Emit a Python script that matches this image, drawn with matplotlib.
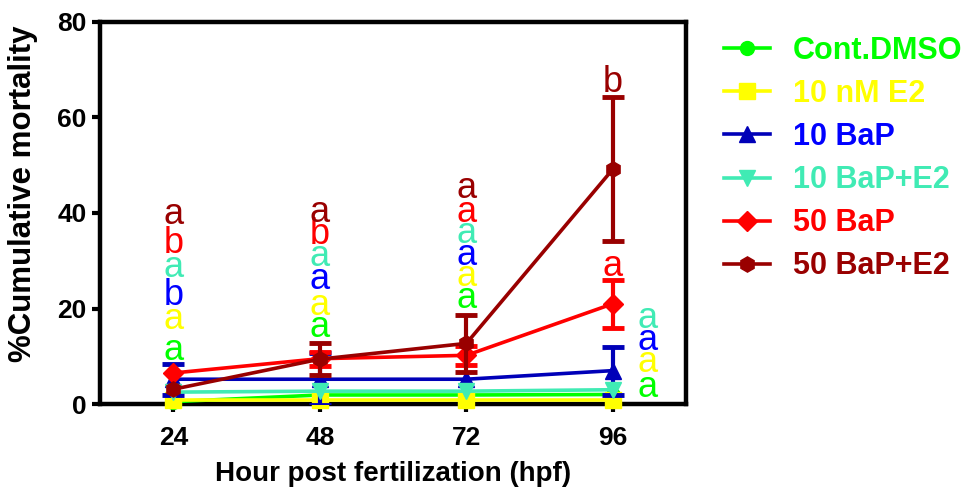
import matplotlib
matplotlib.use("Agg")
import matplotlib.pyplot as plt
from matplotlib.lines import Line2D

plt.rcParams['font.family'] = ['Liberation Sans', 'DejaVu Sans']

# hours post fertilization
hpf = [24, 48, 72, 96]

groups = ["Cont.DMSO", "10 nM E2", "10 BaP", "10 BaP+E2", "50 BaP", "50 BaP+E2"]

# % cumulative mortality (mean) and error per group
dmso = [0.5, 1.9, 1.9, 2.0]
e2 = [0.8, 0.8, 0.8, 0.8]
bap10 = [5.2, 5.2, 5.2, 7.0]
bap10_e2 = [2.5, 2.7, 2.7, 3.0]
bap50 = [6.5, 9.5, 10.2, 21.0]
bap50_e2 = [3.1, 9.4, 12.7, 49.2]

dmso_err = [0, 0, 0, 0]
e2_err = [0, 0, 0, 0]
bap10_err = [3.2, 5.5, 0, 5.0]
bap10_e2_err = [0, 0, 0, 0]
bap50_err = [0, 1.5, 2.0, 5.0]
bap50_e2_err = [0, 3.4, 6.0, 15.0]

# significance letters per group / time point, and where they sit
dmso_let = ["a", "a", "a", "a"]
e2_let = ["a", "a", "a", "a"]
bap10_let = ["b", "a", "a", "a"]
bap10_e2_let = ["a", "a", "a", "a"]
bap50_let = ["b", "b", "a", "a"]
bap50_e2_let = ["a", "a", "a", "b"]

let_x = [[24, 48, 72, 101.7]] * 4 + [[24, 48, 72, 96]] * 2
let_y = [
    [11.3, 16.1, 22.2, 3.4],
    [17.6, 20.7, 26.6, 8.6],
    [22.8, 26.0, 31.2, 13.4],
    [28.5, 30.8, 35.8, 18.0],
    [33.7, 35.4, 40.2, 28.7],
    [39.6, 40.2, 45.2, 67.4],
]

means = [dmso, e2, bap10, bap10_e2, bap50, bap50_e2]
errs = [dmso_err, e2_err, bap10_err, bap10_e2_err, bap50_err, bap50_e2_err]
letters = [dmso_let, e2_let, bap10_let, bap10_e2_let, bap50_let, bap50_e2_let]

line_colors = ["#00FF00", "#FFFF00", "#0000B8", "#40EBB4", "#FF0000", "#990000"]
text_colors = ["#00FF00", "#FFFF00", "#0000FF", "#40EBB4", "#FF0000", "#990000"]
markers = ["o", "s", "^", "v", "D", "h"]
msizes = [10, 11, 11, 11, 10, 11]
letter_font = ['Liberation Sans Narrow', 'Liberation Sans', 'DejaVu Sans']

fig = plt.figure(figsize=(9.72, 4.97), dpi=100)
ax = fig.add_axes([0.1029, 0.187, 0.6031, 0.769])

handles = []
for i in range(len(groups)):
    ax.plot(hpf, means[i], color=line_colors[i], marker=markers[i],
            markersize=msizes[i], linewidth=2.6, clip_on=False, zorder=3 + i)
    ex = [x for x, e in zip(hpf, errs[i]) if e > 0]
    ey = [m for m, e in zip(means[i], errs[i]) if e > 0]
    ee = [e for e in errs[i] if e > 0]
    if ee:
        ax.errorbar(ex, ey, yerr=ee, fmt="none", ecolor=line_colors[i],
                    elinewidth=3, capsize=8, capthick=3.5, zorder=3 + i)
    for j in range(len(hpf)):
        ax.text(let_x[i][j], let_y[i][j], letters[i][j], color=text_colors[i],
                fontsize=26, family=letter_font, ha="center", va="center", zorder=10)
    handles.append(Line2D([], [], color=line_colors[i], marker=markers[i],
                          markersize=msizes[i], linewidth=2.6))

ax.set_xlim(12, 108)
ax.set_ylim(0, 80)
ax.set_xticks(hpf)
ax.set_yticks([0, 20, 40, 60, 80])
for s in ax.spines.values():
    s.set_linewidth(3.2)
ax.tick_params(width=3, length=6, labelsize=19)
for lab in ax.get_xticklabels() + ax.get_yticklabels():
    lab.set_fontweight("bold")
ax.tick_params(axis="x", pad=10)

ax.set_xlabel("Hour post fertilization (hpf)", fontsize=20, fontweight="bold", labelpad=8)
ax.set_ylabel("%Cumulative mortality", fontsize=22.5, fontweight="bold")
ax.yaxis.set_label_coords(-0.105, 0.55)

leg = fig.legend(handles, groups, loc="upper left", bbox_to_anchor=(0.745, 0.928),
                 frameon=False, prop={"size": 22, "weight": "bold"}, handlelength=1.5,
                 handletextpad=0.75, labelspacing=0.43, borderpad=0, borderaxespad=0)
for t, c in zip(leg.get_texts(), text_colors):
    t.set_color(c)

fig.savefig("out.png", dpi=100)
